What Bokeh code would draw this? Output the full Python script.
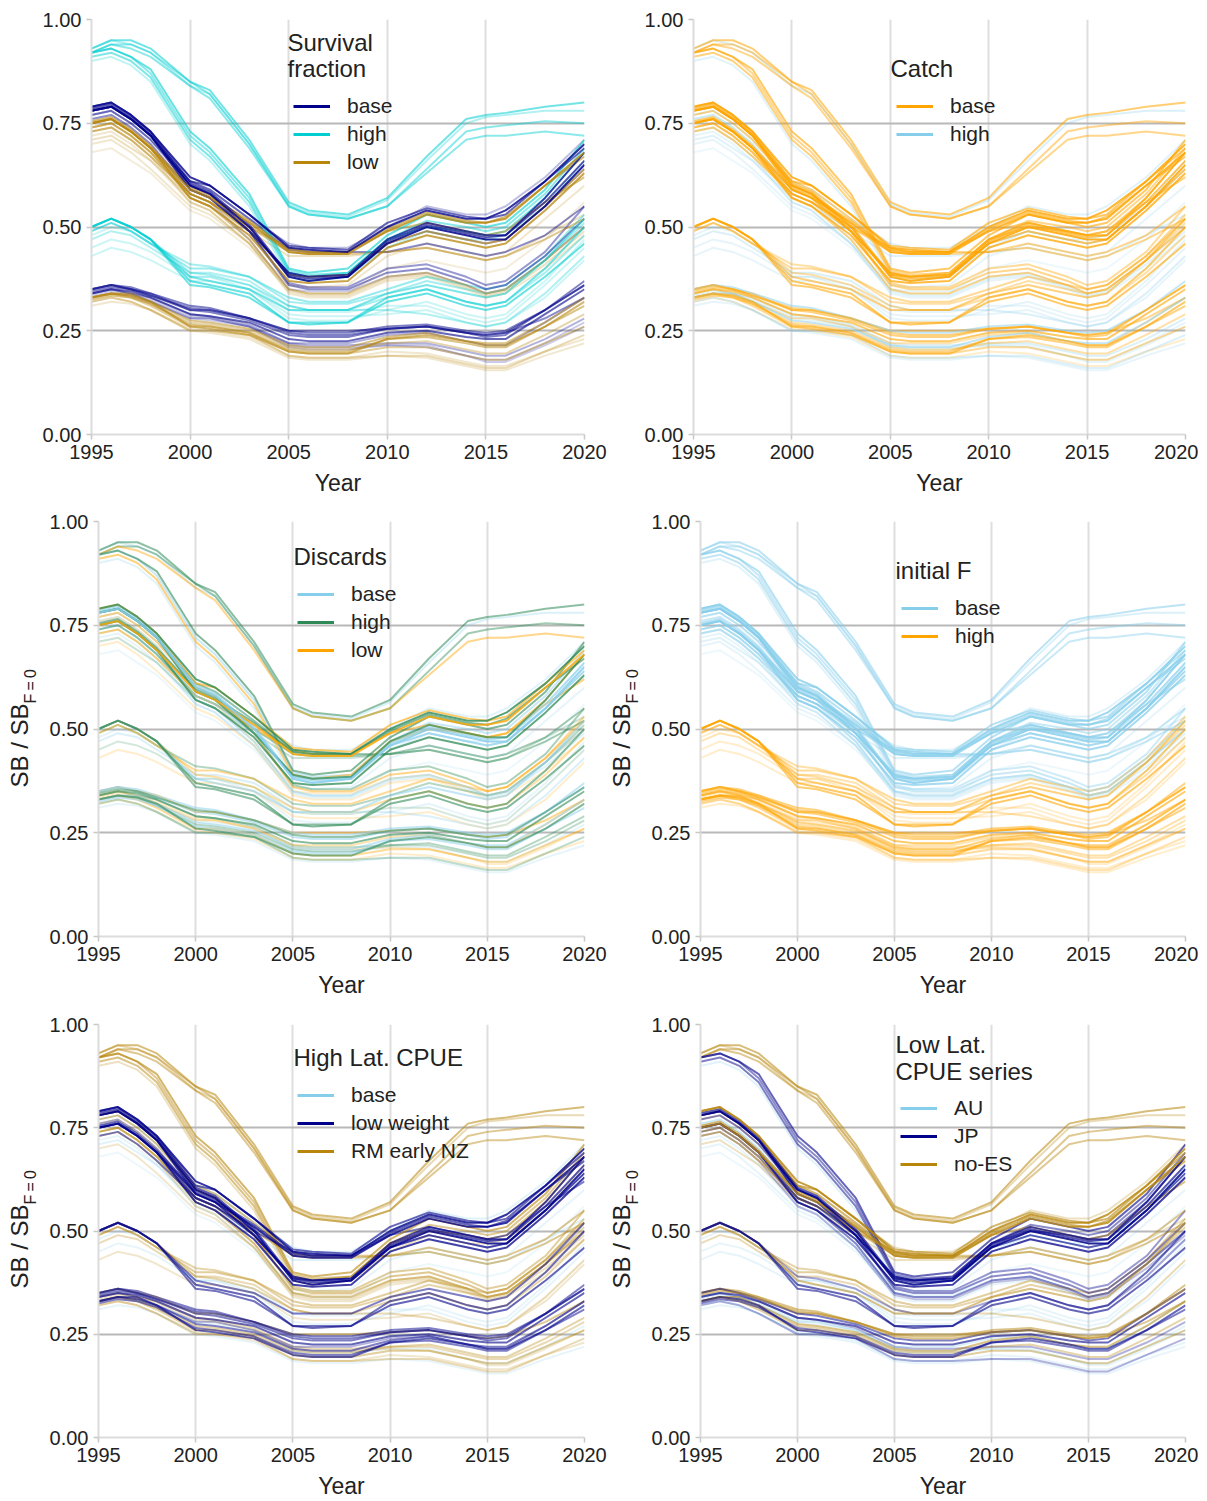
import math
import numpy as np
from bokeh.plotting import figure
from bokeh.models import (ColumnDataSource, Legend, LegendItem, Label, FixedTicker,
                          PrintfTickFormatter, Range1d, Plot)
from bokeh.layouts import column, row
from bokeh.embed import file_html
from bokeh.resources import INLINE

# ---------------------------------------------------------------------------
# Spawning biomass relative to unfished (SB/SB_F=0) for each model run
years = [1995, 1996, 1997, 1998, 2000, 2001, 2003, 2005, 2006, 2008,
         2010, 2012, 2014, 2015, 2016, 2018, 2020]

sb_runs = [
    # initial F base, high survival, recovering strongly
    [0.93, 0.95, 0.95, 0.93, 0.85, 0.83, 0.71, 0.56, 0.54, 0.53, 0.57, 0.67, 0.76, 0.77, 0.775, 0.79, 0.80],
    [0.93, 0.95, 0.94, 0.92, 0.84, 0.82, 0.70, 0.555, 0.535, 0.525, 0.565, 0.66, 0.75, 0.765, 0.77, 0.78, 0.78],
    [0.92, 0.94, 0.94, 0.92, 0.85, 0.82, 0.70, 0.55, 0.53, 0.52, 0.55, 0.64, 0.73, 0.74, 0.745, 0.755, 0.75],
    [0.92, 0.94, 0.93, 0.91, 0.84, 0.81, 0.69, 0.55, 0.53, 0.52, 0.55, 0.63, 0.71, 0.72, 0.72, 0.73, 0.72],
    # initial F base, high survival, steep decline
    [0.92, 0.93, 0.91, 0.88, 0.73, 0.69, 0.58, 0.40, 0.39, 0.40, 0.48, 0.53, 0.51, 0.50, 0.51, 0.59, 0.71],
    [0.91, 0.92, 0.90, 0.86, 0.71, 0.67, 0.56, 0.39, 0.38, 0.39, 0.47, 0.50, 0.49, 0.48, 0.49, 0.57, 0.68],
    [0.90, 0.91, 0.89, 0.85, 0.70, 0.66, 0.55, 0.38, 0.37, 0.38, 0.45, 0.49, 0.47, 0.47, 0.48, 0.55, 0.66],
    # initial F base, base survival
    [0.79, 0.80, 0.77, 0.73, 0.62, 0.60, 0.53, 0.45, 0.445, 0.44, 0.50, 0.54, 0.52, 0.52, 0.54, 0.61, 0.70],
    [0.78, 0.79, 0.76, 0.72, 0.60, 0.58, 0.50, 0.38, 0.37, 0.38, 0.46, 0.50, 0.48, 0.47, 0.47, 0.55, 0.65],
    [0.78, 0.79, 0.76, 0.72, 0.59, 0.57, 0.49, 0.39, 0.38, 0.385, 0.47, 0.51, 0.49, 0.48, 0.48, 0.57, 0.68],
    [0.77, 0.78, 0.75, 0.71, 0.61, 0.59, 0.52, 0.46, 0.45, 0.45, 0.50, 0.55, 0.53, 0.53, 0.55, 0.62, 0.71],
    [0.77, 0.78, 0.75, 0.71, 0.60, 0.58, 0.49, 0.36, 0.35, 0.35, 0.39, 0.40, 0.37, 0.35, 0.36, 0.43, 0.52],
    [0.78, 0.79, 0.76, 0.72, 0.61, 0.59, 0.52, 0.445, 0.44, 0.44, 0.44, 0.46, 0.44, 0.43, 0.44, 0.48, 0.55],
    [0.76, 0.77, 0.74, 0.70, 0.59, 0.57, 0.49, 0.39, 0.38, 0.38, 0.46, 0.49, 0.47, 0.46, 0.47, 0.55, 0.64],
    [0.76, 0.77, 0.74, 0.70, 0.58, 0.56, 0.47, 0.35, 0.345, 0.345, 0.38, 0.39, 0.36, 0.34, 0.35, 0.42, 0.50],
    [0.79, 0.80, 0.77, 0.73, 0.61, 0.60, 0.53, 0.455, 0.45, 0.445, 0.51, 0.545, 0.525, 0.52, 0.53, 0.61, 0.69],
    [0.78, 0.79, 0.76, 0.72, 0.60, 0.58, 0.49, 0.365, 0.355, 0.355, 0.40, 0.41, 0.38, 0.36, 0.37, 0.44, 0.55],
    # initial F base, low survival
    [0.75, 0.76, 0.73, 0.69, 0.59, 0.57, 0.51, 0.44, 0.435, 0.435, 0.49, 0.53, 0.51, 0.51, 0.52, 0.60, 0.68],
    [0.75, 0.76, 0.73, 0.69, 0.57, 0.55, 0.48, 0.37, 0.365, 0.37, 0.45, 0.48, 0.46, 0.45, 0.46, 0.54, 0.63],
    [0.74, 0.75, 0.72, 0.68, 0.57, 0.55, 0.47, 0.35, 0.34, 0.34, 0.38, 0.39, 0.36, 0.34, 0.35, 0.42, 0.50],
    [0.74, 0.75, 0.72, 0.68, 0.58, 0.56, 0.50, 0.44, 0.435, 0.435, 0.44, 0.45, 0.43, 0.42, 0.43, 0.47, 0.52],
    [0.72, 0.73, 0.70, 0.66, 0.56, 0.54, 0.46, 0.36, 0.355, 0.36, 0.43, 0.46, 0.44, 0.43, 0.44, 0.52, 0.60],
    [0.70, 0.71, 0.68, 0.64, 0.55, 0.53, 0.46, 0.34, 0.33, 0.33, 0.37, 0.38, 0.35, 0.33, 0.34, 0.40, 0.48],
    [0.68, 0.69, 0.66, 0.63, 0.54, 0.52, 0.45, 0.35, 0.34, 0.34, 0.40, 0.42, 0.40, 0.39, 0.40, 0.47, 0.56],
    [0.73, 0.74, 0.71, 0.67, 0.58, 0.56, 0.50, 0.45, 0.44, 0.44, 0.49, 0.51, 0.49, 0.48, 0.49, 0.56, 0.62],
    [0.75, 0.76, 0.73, 0.69, 0.58, 0.56, 0.49, 0.385, 0.38, 0.385, 0.46, 0.49, 0.47, 0.46, 0.47, 0.55, 0.64],
    [0.71, 0.72, 0.69, 0.66, 0.57, 0.55, 0.49, 0.43, 0.43, 0.43, 0.44, 0.45, 0.43, 0.42, 0.43, 0.48, 0.53],
    # initial F high, high survival
    [0.50, 0.52, 0.50, 0.47, 0.37, 0.36, 0.34, 0.27, 0.265, 0.27, 0.32, 0.34, 0.31, 0.30, 0.31, 0.38, 0.46],
    [0.50, 0.52, 0.50, 0.47, 0.38, 0.37, 0.35, 0.30, 0.30, 0.30, 0.34, 0.36, 0.34, 0.33, 0.34, 0.42, 0.52],
    [0.49, 0.51, 0.49, 0.46, 0.40, 0.40, 0.38, 0.33, 0.32, 0.32, 0.35, 0.38, 0.36, 0.35, 0.36, 0.43, 0.53],
    [0.47, 0.49, 0.48, 0.45, 0.39, 0.39, 0.37, 0.31, 0.30, 0.30, 0.30, 0.29, 0.27, 0.26, 0.27, 0.34, 0.43],
    [0.45, 0.47, 0.46, 0.44, 0.38, 0.38, 0.36, 0.30, 0.295, 0.295, 0.31, 0.31, 0.28, 0.27, 0.28, 0.36, 0.45],
    [0.43, 0.45, 0.44, 0.42, 0.37, 0.37, 0.35, 0.29, 0.285, 0.285, 0.29, 0.30, 0.27, 0.26, 0.27, 0.33, 0.42],
    [0.50, 0.52, 0.50, 0.47, 0.36, 0.355, 0.33, 0.27, 0.27, 0.27, 0.33, 0.35, 0.32, 0.31, 0.32, 0.40, 0.50],
    [0.50, 0.52, 0.50, 0.47, 0.39, 0.385, 0.36, 0.31, 0.30, 0.30, 0.33, 0.35, 0.32, 0.31, 0.32, 0.39, 0.48],
    [0.48, 0.50, 0.49, 0.46, 0.38, 0.38, 0.35, 0.28, 0.275, 0.275, 0.30, 0.32, 0.29, 0.28, 0.29, 0.37, 0.47],
    # initial F high, base survival
    [0.34, 0.35, 0.345, 0.33, 0.29, 0.285, 0.27, 0.23, 0.225, 0.225, 0.245, 0.25, 0.235, 0.23, 0.23, 0.29, 0.35],
    [0.35, 0.36, 0.355, 0.34, 0.31, 0.305, 0.28, 0.25, 0.245, 0.245, 0.26, 0.265, 0.25, 0.245, 0.25, 0.30, 0.37],
    [0.35, 0.36, 0.35, 0.34, 0.30, 0.30, 0.28, 0.25, 0.25, 0.25, 0.255, 0.26, 0.245, 0.24, 0.245, 0.28, 0.33],
    [0.34, 0.35, 0.34, 0.33, 0.29, 0.285, 0.265, 0.22, 0.215, 0.215, 0.22, 0.22, 0.20, 0.19, 0.19, 0.23, 0.28],
    [0.33, 0.34, 0.335, 0.32, 0.28, 0.275, 0.26, 0.21, 0.205, 0.205, 0.215, 0.215, 0.19, 0.18, 0.18, 0.22, 0.27],
    [0.34, 0.35, 0.34, 0.32, 0.28, 0.28, 0.26, 0.22, 0.22, 0.22, 0.24, 0.245, 0.225, 0.215, 0.215, 0.27, 0.33],
    [0.35, 0.36, 0.35, 0.335, 0.30, 0.295, 0.275, 0.24, 0.235, 0.235, 0.255, 0.26, 0.245, 0.235, 0.24, 0.30, 0.36],
    # initial F high, low survival
    [0.33, 0.34, 0.335, 0.32, 0.26, 0.255, 0.24, 0.20, 0.195, 0.195, 0.23, 0.24, 0.225, 0.215, 0.215, 0.26, 0.32],
    [0.33, 0.34, 0.34, 0.32, 0.275, 0.27, 0.255, 0.215, 0.21, 0.21, 0.235, 0.245, 0.225, 0.22, 0.22, 0.27, 0.33],
    [0.33, 0.34, 0.33, 0.31, 0.26, 0.26, 0.245, 0.20, 0.195, 0.195, 0.21, 0.21, 0.19, 0.18, 0.18, 0.22, 0.26],
    [0.32, 0.33, 0.32, 0.30, 0.25, 0.25, 0.24, 0.19, 0.185, 0.185, 0.19, 0.19, 0.17, 0.16, 0.16, 0.20, 0.24],
    [0.32, 0.33, 0.32, 0.30, 0.255, 0.25, 0.235, 0.19, 0.185, 0.185, 0.20, 0.195, 0.175, 0.165, 0.165, 0.20, 0.23],
    [0.31, 0.32, 0.315, 0.30, 0.25, 0.245, 0.23, 0.185, 0.18, 0.18, 0.19, 0.185, 0.165, 0.155, 0.155, 0.19, 0.22],
    [0.33, 0.34, 0.335, 0.315, 0.27, 0.265, 0.25, 0.21, 0.205, 0.205, 0.22, 0.225, 0.205, 0.195, 0.195, 0.24, 0.29],
    # further runs
    [0.785, 0.795, 0.765, 0.725, 0.605, 0.585, 0.505, 0.385, 0.375, 0.38, 0.465, 0.505, 0.485, 0.475, 0.48, 0.56, 0.66],
    [0.755, 0.765, 0.735, 0.695, 0.595, 0.575, 0.515, 0.445, 0.44, 0.44, 0.495, 0.535, 0.515, 0.51, 0.525, 0.60, 0.67],
    [0.92, 0.93, 0.91, 0.87, 0.72, 0.68, 0.57, 0.395, 0.385, 0.39, 0.47, 0.515, 0.50, 0.49, 0.50, 0.58, 0.69],
    [0.345, 0.355, 0.35, 0.335, 0.305, 0.30, 0.28, 0.245, 0.24, 0.24, 0.255, 0.26, 0.245, 0.24, 0.245, 0.30, 0.36],
    [0.325, 0.335, 0.33, 0.315, 0.265, 0.26, 0.245, 0.205, 0.20, 0.20, 0.23, 0.235, 0.22, 0.21, 0.21, 0.26, 0.31],
    [0.49, 0.51, 0.49, 0.46, 0.41, 0.405, 0.38, 0.32, 0.315, 0.315, 0.34, 0.37, 0.35, 0.34, 0.35, 0.42, 0.51],
    [0.335, 0.345, 0.34, 0.325, 0.285, 0.28, 0.26, 0.215, 0.21, 0.21, 0.215, 0.21, 0.19, 0.175, 0.175, 0.215, 0.26],
    [0.73, 0.74, 0.71, 0.67, 0.56, 0.54, 0.46, 0.345, 0.335, 0.335, 0.375, 0.385, 0.355, 0.335, 0.345, 0.41, 0.49],
]

# Model-run settings, one entry per row of sb_runs
survival = (["high"] * 7 + ["base"] * 10 + ["low"] * 10 + ["high"] * 9 + ["base"] * 7 + ["low"] * 7
            + ["base", "low", "high", "base", "low", "high", "base", "low"])
catch = ["base", "high", "base", "base", "base", "base", "high",
         "base", "base", "base", "high", "base", "base", "high", "high", "base", "base",
         "base", "base", "base", "base", "high", "high", "high", "base", "base", "high",
         "base", "base", "base", "high", "high", "high", "base", "base", "high",
         "base", "high", "base", "high", "high", "base", "base",
         "base", "high", "base", "high", "base", "high", "base",
         "base", "base", "base", "base", "base", "base", "high", "high"]
discards = ["high", "base", "high", "low", "high", "low", "base",
            "high", "base", "high", "base", "low", "high", "base", "low", "low", "high",
            "low", "high", "base", "high", "base", "low", "base", "low", "base", "high",
            "high", "base", "low", "base", "high", "low", "high", "low", "base",
            "high", "base", "low", "high", "base", "low", "base",
            "high", "base", "low", "high", "low", "base", "high",
            "base", "high", "base", "high", "base", "high", "low", "base"]
initial_f = (["base"] * 27 + ["high"] * 23
             + ["base", "base", "base", "high", "high", "high", "high", "base"])
high_lat = (["RM early NZ"] * 7 + [
    "low weight", "low weight", "low weight", "base", "RM early NZ", "RM early NZ", "low weight",
    "RM early NZ", "low weight", "RM early NZ",
    "low weight", "low weight", "RM early NZ", "RM early NZ", "base", "RM early NZ", "base",
    "low weight", "low weight", "base",
    "low weight", "low weight", "RM early NZ", "RM early NZ", "base", "RM early NZ", "low weight",
    "RM early NZ", "base",
    "low weight", "low weight", "RM early NZ", "RM early NZ", "base", "low weight", "low weight",
    "low weight", "low weight", "RM early NZ", "RM early NZ", "RM early NZ", "base", "RM early NZ",
    "low weight", "low weight", "RM early NZ", "low weight", "low weight", "RM early NZ",
    "RM early NZ", "RM early NZ"])
low_lat = ["no-ES", "no-ES", "no-ES", "no-ES", "JP", "JP", "AU",
           "no-ES", "JP", "JP", "no-ES", "JP", "no-ES", "AU", "AU", "no-ES", "JP",
           "no-ES", "JP", "JP", "no-ES", "AU", "AU", "AU", "no-ES", "JP", "no-ES",
           "JP", "no-ES", "no-ES", "no-ES", "AU", "AU", "JP", "JP", "AU",
           "JP", "no-ES", "no-ES", "JP", "AU", "AU", "JP",
           "JP", "no-ES", "no-ES", "JP", "AU", "AU", "no-ES",
           "JP", "no-ES", "JP", "no-ES", "JP", "no-ES", "AU", "JP"]
weight = [0.55, 0.30, 0.45, 0.45, 0.60, 0.50, 0.25,
          0.80, 0.85, 0.70, 0.25, 0.45, 0.45, 0.30, 0.20, 0.60, 0.40,
          0.80, 0.75, 0.45, 0.45, 0.20, 0.20, 0.15, 0.50, 0.60, 0.25,
          0.60, 0.50, 0.40, 0.30, 0.20, 0.20, 0.55, 0.35, 0.20,
          0.60, 0.50, 0.45, 0.30, 0.20, 0.30, 0.50,
          0.60, 0.50, 0.40, 0.30, 0.20, 0.20, 0.35,
          0.65, 0.60, 0.45, 0.50, 0.50, 0.35, 0.20, 0.25]

x_ticks = [1995, 2000, 2005, 2010, 2015, 2020]
y_ticks = [0.0, 0.25, 0.50, 0.75, 1.00]

NAVY, CYAN, GOLD = "#00008B", "#00CED1", "#B8860B"
SKY, GREEN, ORANGE = "#87CEEB", "#2E8B57", "#FFA500"
FONT = "Liberation Sans"
INK = "#222222"

panel_specs = [
    dict(title=["Survival", "fraction"], factor=survival,
         levels=["base", "high", "low"], colors=[NAVY, CYAN, GOLD]),
    dict(title=["Catch"], factor=catch,
         levels=["base", "high"], colors=[ORANGE, SKY]),
    dict(title=["Discards"], factor=discards,
         levels=["base", "high", "low"], colors=[SKY, GREEN, ORANGE]),
    dict(title=["initial F"], factor=initial_f,
         levels=["base", "high"], colors=[SKY, ORANGE]),
    dict(title=["High Lat. CPUE"], factor=high_lat,
         levels=["base", "low weight", "RM early NZ"], colors=[SKY, NAVY, GOLD]),
    dict(title=["Low Lat.", "CPUE series"], factor=low_lat,
         levels=["AU", "JP", "no-ES"], colors=[SKY, NAVY, GOLD]),
]

# screen placement (relative to the plot frame) of legend title lines and legend box
legend_place = [
    dict(title_xy=[(196, 392), (196, 366)], box=(202, 258)),
    dict(title_xy=[(197, 366)], box=(203, 286)),
    dict(title_xy=[(195, 380)], box=(199, 272)),
    dict(title_xy=[(195, 366)], box=(201, 286)),
    dict(title_xy=[(195, 380)], box=(199, 272)),
    dict(title_xy=[(195, 393), (195, 366)], box=(200, 259)),
]


def make_panel(idx, width, height, b_left, b_right, b_top, b_bottom):
    spec = panel_specs[idx]
    place = legend_place[idx]
    p = figure(width=width, height=height, output_backend="svg", toolbar_location=None,
               x_range=Range1d(1995, 2020), y_range=Range1d(0, 1),
               min_border_left=b_left, min_border_right=b_right,
               min_border_top=b_top, min_border_bottom=b_bottom,
               background_fill_color="white", border_fill_color="white",
               outline_line_color=None)

    p.xaxis.ticker = FixedTicker(ticks=x_ticks)
    p.yaxis.ticker = FixedTicker(ticks=y_ticks)
    p.yaxis.formatter = PrintfTickFormatter(format="%.2f")
    p.xaxis.axis_label = "Year"
    for ax in (p.xaxis[0], p.yaxis[0]):
        ax.axis_line_color = "#dcdcdc"
        ax.axis_line_width = 2
        ax.major_tick_line_color = "#c8c8c8"
        ax.major_tick_line_width = 1.5
        ax.major_tick_out = 5
        ax.major_tick_in = 0
        ax.minor_tick_line_color = None
        ax.major_label_text_font = FONT
        ax.major_label_text_font_size = "20px"
        ax.major_label_text_color = INK
        ax.major_label_standoff = 5
        ax.axis_label_text_font = FONT
        ax.axis_label_text_font_size = "23px"
        ax.axis_label_text_font_style = "normal"
        ax.axis_label_text_color = INK
        ax.axis_label_standoff = 8
    p.xgrid.grid_line_color = "#dedede"
    p.xgrid.grid_line_width = 2
    p.ygrid.grid_line_color = "#b8b8b8"
    p.ygrid.grid_line_width = 2

    # model runs, faint ones drawn first
    order = sorted(range(len(sb_runs)), key=lambda i: weight[i])
    cmap = dict(zip(spec["levels"], spec["colors"]))
    src = ColumnDataSource(dict(
        xs=[years for _ in order],
        ys=[sb_runs[i] for i in order],
        color=[cmap[spec["factor"][i]] for i in order],
        alpha=[weight[i] for i in order],
    ))
    p.multi_line("xs", "ys", source=src, line_color="color", line_alpha="alpha",
                 line_width=2.0)

    # legend keys (renderers carry no visible data)
    items = []
    for lev, col in zip(spec["levels"], spec["colors"]):
        r = p.line(x=np.array([np.nan]), y=np.array([np.nan]), line_color=col, line_width=3)
        items.append(LegendItem(label=lev, renderers=[r]))
    leg = Legend(items=items, location=place["box"], orientation="vertical",
                 padding=0, margin=0, spacing=0,
                 glyph_width=37, glyph_height=28, label_height=28, label_standoff=17,
                 label_text_font=FONT, label_text_font_size="21px",
                 label_text_color=INK, background_fill_alpha=0, border_line_alpha=0)
    p.add_layout(leg)
    for (tx, ty), line in zip(place["title_xy"], spec["title"]):
        p.add_layout(Label(x=tx, y=ty, x_units="screen", y_units="screen", text=line,
                           text_font=FONT, text_font_size="24px", text_color=INK,
                           text_baseline="middle", text_align="left"))
    return p


def make_ylabel(width, height, x_main, x_sub):
    """Narrow strip holding the rotated SB/SB_F=0 axis title.

    Its frame lines up with the neighbouring panel's frame, so the vertical
    positions are measured from the bottom of that frame."""
    s = Plot(width=width, height=height, x_range=Range1d(0, 1), y_range=Range1d(0, 1),
             min_border=0, min_border_left=0, min_border_right=0, min_border_top=0,
             min_border_bottom=0, outline_line_color=None, toolbar_location=None,
             output_backend="svg", background_fill_color="white",
             border_fill_color="white")
    s.add_layout(Label(x=x_main, y=149, x_units="screen", y_units="screen",
                       text="SB / SB", angle=math.pi / 2, text_font=FONT,
                       text_font_size="24px", text_color=INK,
                       text_baseline="middle", text_align="left"))
    s.add_layout(Label(x=x_sub, y=233, x_units="screen", y_units="screen",
                       text="F\u2009=\u20090", angle=math.pi / 2, text_font=FONT,
                       text_font_size="16px", text_color=INK,
                       text_baseline="middle", text_align="left"))
    return s


p1 = make_panel(0, 608, 502, 91, 24, 19, 68)
p2 = make_panel(1, 590, 502, 85, 13, 19, 68)

yl3 = make_ylabel(40, 502, 18.5, 30)
p3 = make_panel(2, 568, 502, 58, 24, 19, 68)
yl4 = make_ylabel(36, 502, 12.5, 24)
p4 = make_panel(3, 554, 502, 56, 13, 19, 68)

yl5 = make_ylabel(40, 497, 18.5, 30)
p5 = make_panel(4, 568, 497, 58, 24, 20, 62)
yl6 = make_ylabel(36, 497, 12.5, 24)
p6 = make_panel(5, 554, 497, 56, 13, 20, 62)

layout = column(row(p1, p2), row(yl3, p3, yl4, p4), row(yl5, p5, yl6, p6))

with open("out.html", "w") as f:
    f.write(file_html(layout, INLINE))
